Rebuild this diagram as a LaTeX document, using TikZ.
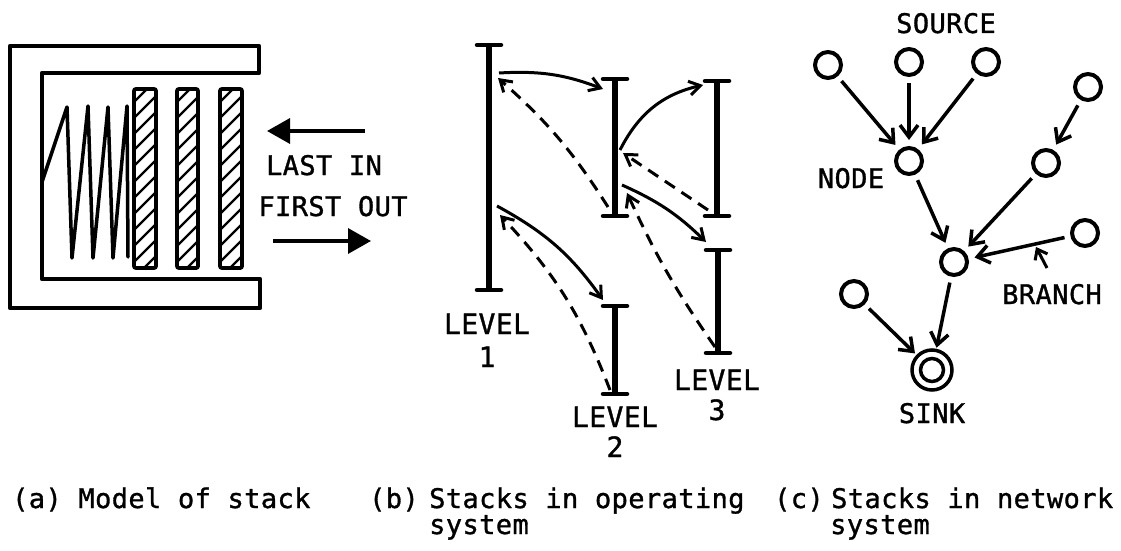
\documentclass[tikz,border=0pt]{standalone}
\usepackage{fontspec}
\newfontfamily\tw[LetterSpace=1.5,FakeBold=1.2]{DejaVu Sans Mono}
\usetikzlibrary{arrows.meta}
\begin{document}
\begin{tikzpicture}[x=1pt,y=-1pt,
  lbl/.style={font=\tw\fontsize{27}{27}\selectfont, inner sep=0pt, anchor=base},
  lvl/.style={font=\tw\fontsize{28}{28}\selectfont, inner sep=0pt, anchor=base},
  captxt/.style={font=\tw\fontsize{27}{27}\selectfont, inner sep=0pt, anchor=base west},
  frame/.style={line width=4.5pt, line join=round},
  spring/.style={line width=3.5pt, line join=round, line cap=round},
  slot/.style={line width=3.8pt, rounded corners=2pt},
  hatch/.style={line width=2.2pt},
  bigarrow/.style={line width=3.5pt, -{Triangle[length=23pt,width=25pt]}},
  stackline/.style={line width=5.5pt},
  stacktick/.style={line width=4.5pt, line cap=round},
  call/.style={line width=3pt, -{Straight Barb[length=11pt,width=14pt]}},
  ret/.style={call, dash pattern=on 12pt off 8pt},
  circ/.style={circle, draw, line width=4pt, minimum size=26pt, inner sep=0pt},
  flow/.style={line width=3.5pt, -{Straight Barb[length=12pt,width=18pt]}, shorten <=6pt, shorten >=6pt},
]
\fill[white] (0,0) rectangle (1121,551);
\useasboundingbox (0,0) rectangle (1121,551);

% ---------- (a) model of stack ----------
\draw[frame] (10,46) -- (259,46) -- (259,73) -- (42,73) -- (42,279) -- (260,279) -- (260,308) -- (10,308) -- cycle;
\draw[spring] (42,182) -- (67,107) -- (72,258) -- (88,106) -- (93,258) -- (108,107) -- (113,258) -- (127,106) -- (128,257);
\foreach \xa/\xb in {134/156, 177/198, 220/242} {
  \begin{scope}
    \clip[rounded corners=2pt] (\xa,89) rectangle (\xb,268);
    \foreach \y in {70,86,...,310} \draw[hatch] (\xa,\y) -- (\xb,{\y-(\xb-\xa)});
  \end{scope}
  \draw[slot] (\xa,89) rectangle (\xb,268);
}
\coordinate (ina) at (365,131); \coordinate (inb) at (267,131);
\coordinate (outa) at (273,241); \coordinate (outb) at (371,241);
\draw[bigarrow] (ina) -- (inb);
\draw[bigarrow] (outa) -- (outb);
\node[lbl] (lastin) at (324,175) {LAST IN};
\node[lbl] (firstout) at (333,216) {FIRST OUT};

% ---------- (b) stacks in operating system ----------
\foreach \x/\t/\b in {489/45/290, 615/79/216, 615/306/394, 717/81/216, 718/250/353} {
  \draw[stackline] (\x,\t) -- (\x,\b);
  \draw[stacktick] ({\x-12},\t) -- ({\x+12},\t);
  \draw[stacktick] ({\x-12},\b) -- ({\x+12},\b);
}
\coordinate (l1a) at (499,73);  \coordinate (m1a) at (603,89);
\coordinate (m1b) at (608,207); \coordinate (l1b) at (498,78);
\coordinate (m1c) at (620,150); \coordinate (r1a) at (703,85);
\coordinate (r1b) at (708,210); \coordinate (m1d) at (623,153);
\coordinate (m1e) at (622,185); \coordinate (r2a) at (706,242);
\coordinate (r2b) at (715,347); \coordinate (m1f) at (627,193);
\coordinate (l1c) at (497,206); \coordinate (l2a) at (603,300);
\coordinate (l2b) at (610,390); \coordinate (l1d) at (500,215);
\draw[call] (l1a) to[bend left=12] (m1a);
\draw[ret]  (m1b) to[bend right=8] (l1b);
\draw[call] (m1c) to[bend left=25] (r1a);
\draw[ret]  (r1b) -- (m1d);
\draw[call] (m1e) to[bend left=10] (r2a);
\draw[ret]  (r2b) to[bend left=5] (m1f);
\draw[call] (l1c) to[bend left=13] (l2a);
\draw[ret]  (l2b) to[bend right=11] (l1d);
\node[lvl] (lv1) at (487,334) {LEVEL}; \node[lvl] (lv1n) at (487,367) {1};
\node[lvl] (lv2) at (615,427) {LEVEL}; \node[lvl] (lv2n) at (615,457) {2};
\node[lvl] (lv3) at (717,390) {LEVEL}; \node[lvl] (lv3n) at (717,420) {3};

% ---------- (c) stacks in network system ----------
\node[circ] (s1) at (828,65) {};
\node[circ] (s2) at (909,62) {};
\node[circ] (s3) at (986,62) {};
\node[circ] (r1) at (1088,87) {};
\node[circ] (nd) at (909,161) {};
\node[circ] (n2) at (1046,163) {};
\node[circ] (cc) at (954,262) {};
\node[circ] (br) at (1085,233) {};
\node[circ] (lf) at (854,294) {};
\node[circle, draw, line width=3.5pt, minimum size=40pt, inner sep=0pt] (sink) at (932,370) {};
\draw[line width=3.5pt] (sink.center) circle[radius=11.5pt];
\draw[flow] (s1) -- (nd);
\draw[flow] (s2) -- (nd);
\draw[flow] (s3) -- (nd);
\draw[flow] (r1) -- (n2);
\draw[flow] (nd) -- (cc);
\draw[flow] (n2) -- (cc);
\draw[flow] (br) -- (cc);
\draw[flow, shorten >=1pt] (cc) -- (sink);
\draw[flow, shorten >=2pt] (lf) -- (sink);
\coordinate (bp1) at (1047,268); \coordinate (bp2) at (1036,247);
\draw[line width=3pt, -{Straight Barb[length=9pt,width=14pt]}] (bp1) -- (bp2);
\node[lbl] (srcl) at (946,33) {SOURCE};
\node[lbl] (ndl) at (851,188) {NODE};
\node[lbl] (brl) at (1052,304) {BRANCH};
\node[lbl] (skl) at (932,423) {SINK};

% ---------- captions ----------
\node[captxt] (capa) at (12,508) {(a) Model of stack};
\node[captxt] (capb) at (369,508) {(b)};
\node[captxt] (capb1) at (429,508) {Stacks in operating};
\node[captxt] (capb2) at (429,534) {system};
\node[captxt] (capc) at (774,508) {(c)};
\node[captxt] (capc1) at (831,508) {Stacks in network};
\node[captxt] (capc2) at (830,534) {system};
\end{tikzpicture}
\end{document}
